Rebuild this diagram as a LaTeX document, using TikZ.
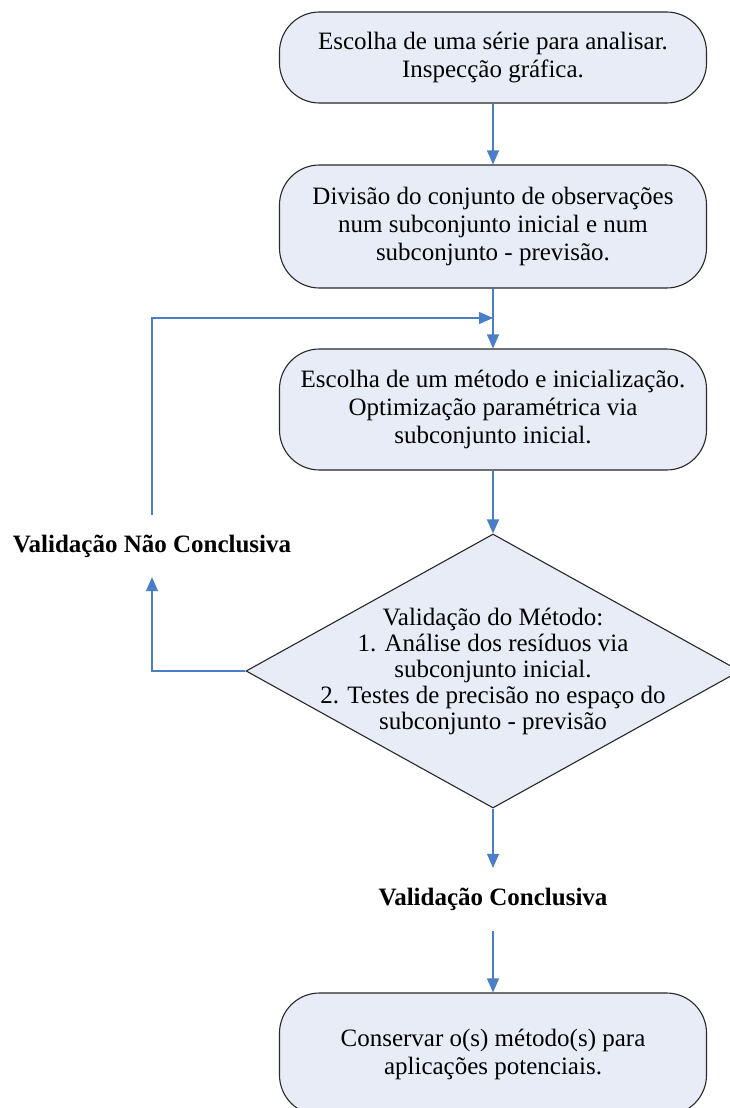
\documentclass[tikz,border=0pt]{standalone}
\usepackage{fontspec}
\setmainfont{Liberation Serif}
\usetikzlibrary{shapes.geometric,arrows.meta}
\definecolor{boxfill}{RGB}{231,236,247}
\definecolor{flow}{RGB}{74,126,199}
\definecolor{edge}{RGB}{40,40,40}
\begin{document}
\begin{tikzpicture}[x=1pt,y=-1pt,
  every node/.style={font=\fontsize{25}{28}\selectfont},
  stepbox/.style={draw=edge, line width=1.1pt, fill=boxfill, rounded corners=40pt,
    minimum width=427pt, align=center, inner sep=0pt},
  decision/.style={draw=edge, line width=1.1pt, fill=boxfill, diamond,
    minimum width=494pt, minimum height=274pt, inner sep=0pt},
  outcome/.style={font=\fontsize{25}{28}\selectfont\bfseries, inner sep=0pt},
  flowline/.style={draw=flow, line width=1.2pt},
  flowarrow/.style={flowline, -{Triangle[length=14pt,width=12pt]}}]

\useasboundingbox (0,0) rectangle (730,1108);
\fill[white] (0,0) rectangle (730,1108);

% process steps
\node[stepbox, minimum height=91pt] (s1) at (493,57.5)
  {Escolha de uma série para analisar.\\Inspecção gráfica.};
\node[stepbox, minimum height=123pt] (s2) at (493,226.5)
  {Divisão do conjunto de observações\\num subconjunto inicial e num\\subconjunto - previsão.};
\node[stepbox, minimum height=121pt] (s3) at (493,409.5)
  {Escolha de um método e inicialização.\\Optimização paramétrica via\\subconjunto inicial.};

% validation decision
\node[decision] (val) at (493,671) {};
\node[align=center, inner sep=0pt, font=\fontsize{25}{26}\selectfont] (valtext) at (val.center)
  {Validação do Método:\\1. Análise dos resíduos via\\subconjunto inicial.\\2. Testes de precisão no espaço do\\subconjunto - previsão};

% outcomes
\node[outcome, minimum height=62pt] (nc) at (152,546) {Validação Não Conclusiva};
\node[outcome, minimum height=63pt] (ok) at (493,899.5) {Validação Conclusiva};

% final step
\node[stepbox, minimum height=122pt] (s4) at (493,1054)
  {Conservar o(s) método(s) para\\aplicações potenciais.};

\coordinate (merge) at (493,318);

% connectors
\draw[flowarrow] (s1.south) -- (s2.north);
\draw[flowarrow] (s2.south) -- (s3.north);
\draw[flowarrow] (nc.north) |- (merge);
\draw[flowarrow] (s3.south) -- (val.north);
\draw[flowarrow] (val.west) -| (nc.south);
\draw[flowarrow] (val.south) -- (ok.north);
\draw[flowarrow] (ok.south) -- (s4.north);
\end{tikzpicture}
\end{document}
